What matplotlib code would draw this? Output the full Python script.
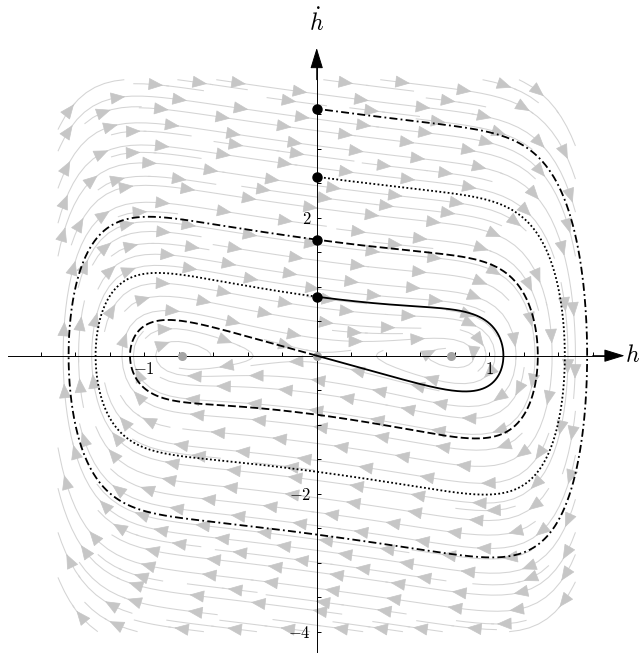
import numpy as np
import matplotlib
matplotlib.use("Agg")
import matplotlib.pyplot as plt
from matplotlib.patches import FancyArrowPatch

plt.rcParams["mathtext.fontset"] = "cm"
plt.rcParams["font.family"] = "serif"

# h'' = k h - b h^7 - c h'   (saddle at 0, stable foci at +-h_eq)
k_lin = 0.25
h_eq = 0.78
power = 7
damping = 0.335
b_nl = k_lin / h_eq ** (power - 1)

# plotting window and the box covered by the stream field
x_view = (-1.836, 1.880)
y_view = (-4.338, 5.155)
field_x = (-1.5, 1.5)
field_y = (-4.0, 4.0)

x_ticks = [-1.6, -1.4, -1.2, -1.0, -0.8, -0.6, -0.4, -0.2,
           0.2, 0.4, 0.6, 0.8, 1.0, 1.2, 1.4, 1.6]
x_labels = {-1.0: "$-1$", 1.0: "$1$"}
y_ticks = [-4.0, -3.5, -3.0, -2.5, -2.0, -1.5, -1.0, -0.5,
           0.5, 1.0, 1.5, 2.0, 2.5, 3.0, 3.5]
y_labels = {-4.0: "$-4$", -2.0: "$-2$", 2.0: "$2$"}

# stable manifold branches of the saddle: (side, zero crossings of h,
# crossing where the line style changes, inner style, outer style)
branches = [
    (-1, 4, 2, (0, (4.4, 1.8)), (0, (4.4, 1.8, 1.0, 1.8))),
    (1, 3, 1, "-", (0, (1.0, 1.3))),
]

line_gray = "#d4d4d4"
head_gray = "#c6c6c6"
arrow_gap = 62      # px between arrow heads along a streamline
arrow_start = 30    # px to the first head


def field(h, v):
    return v, k_lin * h - b_nl * h ** power - damping * v


def stable_branch(side, n_cross, dt=0.002):
    """Integrate backward in time from the saddle along its stable direction."""
    lam = (-damping - np.sqrt(damping ** 2 + 4 * k_lin)) / 2
    h, v = side * 1e-6, side * 1e-6 * lam
    hs, vs, cross = [0.0, h], [0.0, v], []

    def back(h, v):
        dh, dv = field(h, v)
        return -dh, -dv

    while len(cross) < n_cross:
        k1 = back(h, v)
        k2 = back(h + dt / 2 * k1[0], v + dt / 2 * k1[1])
        k3 = back(h + dt / 2 * k2[0], v + dt / 2 * k2[1])
        k4 = back(h + dt * k3[0], v + dt * k3[1])
        hn = h + dt / 6 * (k1[0] + 2 * k2[0] + 2 * k3[0] + k4[0])
        vn = v + dt / 6 * (k1[1] + 2 * k2[1] + 2 * k3[1] + k4[1])
        if len(hs) > 20 and np.sign(hn) != np.sign(h):
            t = h / (h - hn)
            hs.append(0.0)
            vs.append(v + t * (vn - v))
            cross.append(len(hs) - 1)
            if len(cross) == n_cross:
                break
        hs.append(hn)
        vs.append(vn)
        h, v = hn, vn
    return np.array(hs), np.array(vs), cross


def polylines(segments):
    """Join streamplot pieces back into whole lines."""
    lines = []
    for seg in segments:
        seg = list(seg)
        if lines and np.allclose(seg[0], lines[-1][-1]):
            lines[-1].extend(seg[1:])
        else:
            lines.append(seg)
    return [np.array(l) for l in lines]


fig = plt.figure(figsize=(6.41, 6.55), dpi=100)
ax = fig.add_axes([0, 0, 1, 1])
ax.set_xlim(*x_view)
ax.set_ylim(*y_view)

# gray stream field, with several heads along each line
gx = np.linspace(*field_x, 61)
gy = np.linspace(*field_y, 81)
X, Y = np.meshgrid(gx, gy)
U, V = field(X, Y)
strm = ax.streamplot(X, Y, U, V, density=(1.35, 1.7), color=line_gray,
                     linewidth=0.75, arrowstyle="-", zorder=1)
strm.arrows.set_visible(False)
for line in polylines(strm.lines.get_segments()):
    pix = ax.transData.transform(line)
    arc = np.concatenate([[0], np.cumsum(np.hypot(*np.diff(pix, axis=0).T))])
    for s in np.arange(arrow_start, arc[-1] - 5, arrow_gap):
        tip = [np.interp(s, arc, line[:, 0]), np.interp(s, arc, line[:, 1])]
        tail = [np.interp(s - 8, arc, line[:, 0]), np.interp(s - 8, arc, line[:, 1])]
        ax.add_patch(FancyArrowPatch(
            tail, tip, arrowstyle="-|>,head_length=0.6,head_width=0.25",
            mutation_scale=16, color=head_gray, lw=0.5,
            shrinkA=0, shrinkB=0, zorder=1))

# axes through the origin
for s in ["top", "right"]:
    ax.spines[s].set_visible(False)
ax.spines["left"].set_position("zero")
ax.spines["bottom"].set_position("zero")
ax.spines["bottom"].set_bounds(-1.79, 1.70)
ax.spines["left"].set_bounds(-4.29, 4.2)
for s in ["left", "bottom"]:
    ax.spines[s].set_linewidth(0.7)
    ax.spines[s].set_zorder(2)
ax.set_xticks(x_ticks)
ax.set_xticklabels([x_labels.get(t, "") for t in x_ticks])
ax.set_yticks(y_ticks)
ax.set_yticklabels([y_labels.get(t, "") for t in y_ticks])
ax.tick_params(direction="in", length=3, width=0.7, labelsize=12, pad=4)

arrow = dict(arrowstyle="-|>,head_length=0.65,head_width=0.2", color="k",
             lw=0.7, mutation_scale=20, shrinkA=0, shrinkB=0)
ax.annotate("", xy=(1.785, 0), xytext=(1.6, 0), arrowprops=arrow, zorder=3)
ax.annotate("", xy=(0, 4.46), xytext=(0, 4.0), arrowprops=arrow, zorder=3)
ax.text(1.872, 0, "$h$", fontsize=17, ha="right", va="center")
ax.text(0, 4.84, r"$\dot{h}$", fontsize=17, ha="center", va="center")

# equilibria
ax.plot([-h_eq, 0, h_eq], [0, 0, 0], "o", color="#a5a5a5", ms=6.5,
        mec="none", zorder=3)

# stable manifold of the saddle, split at the zero crossings of h
for side, n_cross, split, inner_ls, outer_ls in branches:
    hs, vs, cross = stable_branch(side, n_cross)
    cut = cross[split - 1]
    ax.plot(hs[:cut + 1], vs[:cut + 1], color="k", lw=1.3, ls=inner_ls, zorder=4)
    ax.plot(hs[cut:], vs[cut:], color="k", lw=1.3, ls=outer_ls, zorder=4)
    ups = [i for i in cross if vs[i] > 0]
    ax.plot(hs[ups], vs[ups], "o", color="k", ms=6.5, zorder=5)

fig.savefig("out.png")
